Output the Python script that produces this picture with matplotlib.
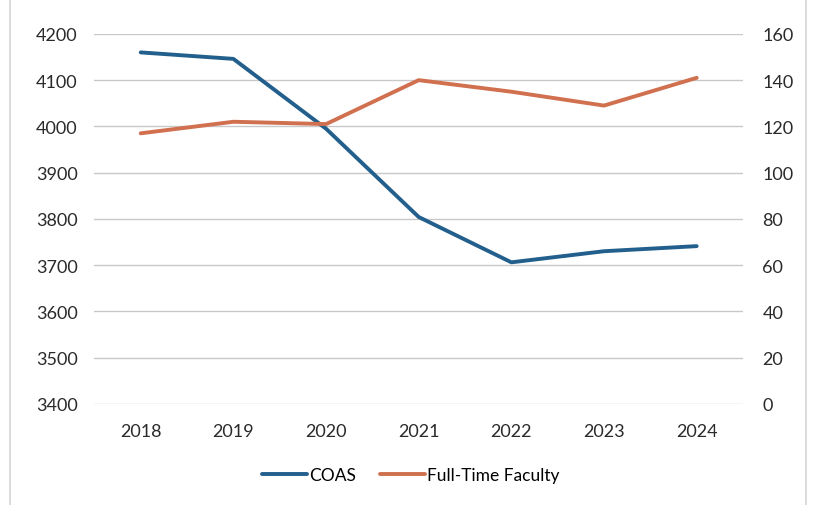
import numpy as np
import matplotlib.pyplot as plt
from matplotlib.patches import Rectangle

years = ['2018', '2019', '2020', '2021', '2022', '2023', '2024']
coas = [4160, 4146, 3995, 3804, 3706, 3730, 3741]
faculty = [117, 122, 121, 140, 135, 129, 141]

plt.rcParams['font.family'] = ['Lato', 'DejaVu Sans']

fig = plt.figure(figsize=(8.21, 5.06), dpi=100)
ax = fig.add_axes([0.115, 0.2, 0.79, 0.731])
ax2 = ax.twinx()

x = np.arange(len(years))
l1, = ax.plot(x, coas, color='#235f8c', linewidth=2.8, solid_capstyle='round',
              label='COAS', zorder=3)
l2, = ax2.plot(x, faculty, color='#d0704f', linewidth=2.8, solid_capstyle='round',
               label='Full-Time Faculty', zorder=3)

ax.set_xlim(-0.5, 6.5)
ax.set_ylim(3400, 4200)
ax.set_yticks(np.arange(3400, 4201, 100))
ax2.set_ylim(0, 160)
ax2.set_yticks(np.arange(0, 161, 20))
ax.set_xticks(x)
ax.set_xticklabels(years)

ax.grid(axis='y', color='#c8c8c8', linewidth=1.0)
ax.set_axisbelow(True)
for a in (ax, ax2):
    for s in a.spines.values():
        s.set_visible(False)
    a.tick_params(length=0, labelsize=13, colors='#2a2a2a')
ax.yaxis.set_tick_params(pad=12)
ax2.yaxis.set_tick_params(pad=14)
ax.xaxis.set_tick_params(pad=14)

fig.legend(handles=[l1, l2], loc='center', bbox_to_anchor=(0.5, 0.06),
           ncol=2, frameon=False, fontsize=12.5, handlelength=2.6,
           handletextpad=0.1, columnspacing=1.4)

# chart border
fig.patches.append(Rectangle((0.012, -0.01), 0.97, 1.05, transform=fig.transFigure,
                             fill=False, edgecolor='#d4d4d4', linewidth=1.2))

fig.savefig('out.png', dpi=100)
